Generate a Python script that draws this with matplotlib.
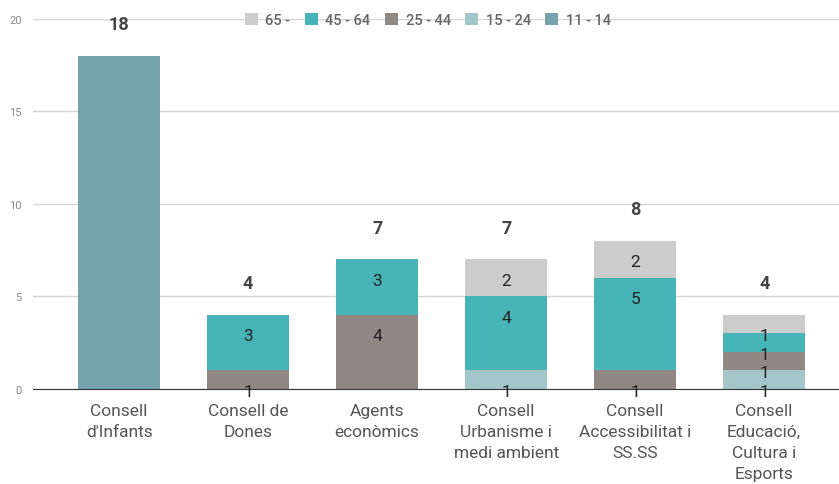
import numpy as np
import matplotlib
matplotlib.use('Agg')
import matplotlib.pyplot as plt

plt.rcParams['font.family'] = ['Roboto', 'DejaVu Sans']

# categories (x axis)
categories = ['Consell\nd\'Infants', 'Consell de\nDones', 'Agents\neconòmics',
              'Consell\nUrbanisme i\nmedi ambient', 'Consell\nAccessibilitat i\nSS.SS',
              'Consell\nEducació,\nCultura i\nEsports']

# age groups, stacked bottom to top
groups = ['11 - 14', '15 - 24', '25 - 44', '45 - 64', '65 -']
v_11_14 = [18, 0, 0, 0, 0, 0]
v_15_24 = [0, 0, 0, 1, 0, 1]
v_25_44 = [0, 1, 4, 0, 1, 1]
v_45_64 = [0, 3, 3, 4, 5, 1]
v_65 = [0, 0, 0, 2, 2, 1]
series = [v_11_14, v_15_24, v_25_44, v_45_64, v_65]
colors = ['#75a3ae', '#a3c6cb', '#918883', '#47b5b7', '#cccccc']

fig = plt.figure(figsize=(8.39, 4.85), dpi=100)
ax = fig.add_axes([0.039, 0.196, 0.961, 0.763])

x = np.arange(len(categories))
bottom = np.zeros(len(categories))
handles = []
for vals, col, name in zip(series, colors, groups):
    vals = np.array(vals, dtype=float)
    b = ax.bar(x, vals, 0.64, bottom=bottom, color=col, label=name, zorder=3)
    handles.append(b)
    for i in range(len(x)):
        if vals[i] > 0 and name != '11 - 14':
            top = bottom[i] + vals[i]
            ax.text(x[i], top - 1.12, '%d' % vals[i], ha='center', va='center',
                    fontsize=12.5, color='#222222', zorder=5)
    bottom = bottom + vals

# totals above bars
for i in range(len(x)):
    ax.text(x[i], bottom[i] + 1.7, '%d' % bottom[i], ha='center', va='center',
            fontsize=13, fontweight='bold', color='#444444', zorder=5)

ax.set_ylim(0, 20)
ax.set_xlim(-0.67, 5.58)
ax.set_yticks([0, 5, 10, 15, 20])
ax.yaxis.grid(True, color='#d6d6d6', linewidth=1, zorder=0)
ax.set_axisbelow(True)
for s in ['top', 'right', 'left']:
    ax.spines[s].set_visible(False)
ax.spines['bottom'].set_color('#333333')
ax.spines['bottom'].set_zorder(4)
ax.tick_params(axis='y', length=0, labelsize=8, labelcolor='#888888', pad=8)
ax.tick_params(axis='x', length=0, labelsize=12.5, labelcolor='#555555', pad=10)
ax.set_xticks(x)
ax.set_xticklabels(categories, linespacing=1.5)

leg = fig.legend(handles[::-1], groups[::-1], loc='center', bbox_to_anchor=(0.51, 0.957),
                 ncol=5, frameon=False, fontsize=10.5, handlelength=0.9, handleheight=0.9,
                 columnspacing=1.0, handletextpad=0.5)
for t in leg.get_texts():
    t.set_color('#666666')
    t.set_fontweight('medium')

fig.savefig('out.png', dpi=100)
plt.close()
